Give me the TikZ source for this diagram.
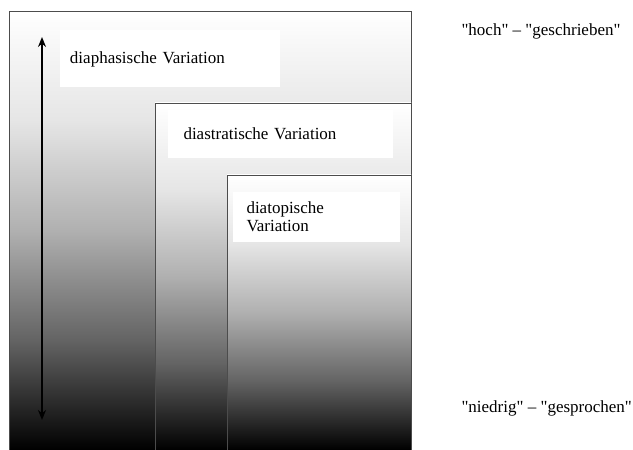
\documentclass[tikz,border=0pt]{standalone}
\usepackage{fontspec}
\setmainfont{Liberation Serif}[Ligatures=TeXOff]
\usepackage{tikz}
\usetikzlibrary{arrows,arrows.meta,shapes}
\pgfdeclareverticalshading{fade}{100bp}{color(0bp)=(black); color(25bp)=(black); color(37.5bp)=(black!61); color(50bp)=(black!31); color(62.5bp)=(black!10); color(75bp)=(white); color(100bp)=(white)}
\tikzstyle{varbox}=[draw=black!70,line width=0.8pt,shading=fade]
\tikzstyle{label box}=[fill=white,rectangle,align=left,font=\fontsize{17}{18}\selectfont]
\tikzstyle{pole}=[anchor=west,font=\fontsize{17}{18}\selectfont]
\tikzstyle{scale arrow}=[draw,line width=1.8pt,{Stealth[length=10pt,width=8pt]}-{Stealth[length=10pt,width=8pt]}]

\begin{document}
\begin{tikzpicture}[x=1pt,y=1pt]
        \useasboundingbox (0,0) rectangle (633,450);
        % nested variation boxes
        \shade[varbox] (9,0) rectangle (411,439);
        \shade[varbox] (155,0) rectangle (411,347);
        \shade[varbox] (227,0) rectangle (411,275);
        \node[label box,minimum width=220pt,minimum height=57pt,inner xsep=10pt,text width=200pt] (diaphas) at (170,391) {diaphasische Variation};
        \node[label box,minimum width=225pt,minimum height=48pt,inner xsep=16pt,text width=193pt] (diastrat) at (280,316) {diastratische Variation};
        \node[label box,minimum width=167pt,minimum height=50pt,inner xsep=14pt,text width=139pt] (diatop) at (316,233) {diatopische\\Variation};
        \node[pole] (hoch) at (458,419) {"hoch" – "geschrieben"};
        \node[pole] (niedrig) at (458,42) {"niedrig" – "gesprochen"};
        \coordinate (top) at (42,413);
        \coordinate (bottom) at (42,30);
        \draw[scale arrow] (top) to (bottom);
      \end{tikzpicture}
\end{document}
